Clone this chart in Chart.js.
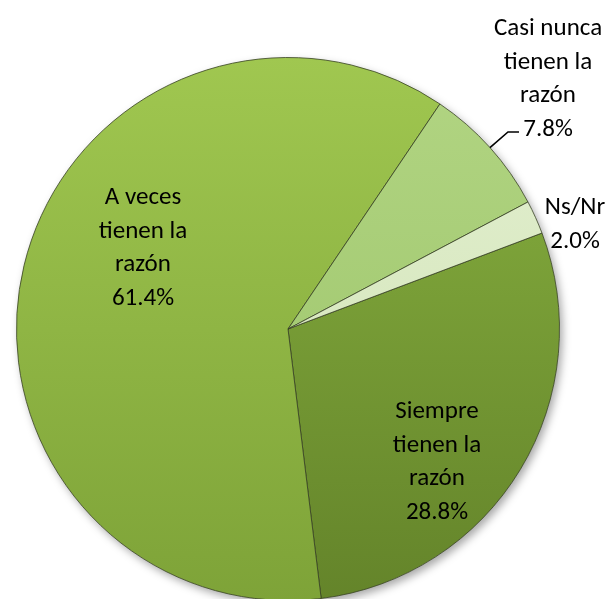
<!DOCTYPE html>
<html>
<head>
<meta charset="utf-8">
<script src="https://cdn.jsdelivr.net/npm/chart.js@4"></script>
<style>
  html, body { margin: 0; padding: 0; background: #fff; overflow: hidden; }
  #wrap { position: relative; width: 612px; height: 620px; }
</style>
</head>
<body>
<div id="wrap"><canvas id="pie"></canvas></div>
<script>
// data (percent)
let categories = ['Siempre tienen la razón', 'A veces tienen la razón', 'Casi nunca tienen la razón', 'Ns/Nr'];
let values = [28.8, 61.4, 7.8, 2.0];
// label lines as they are wrapped in the picture
let labelLines = [
    ['Siempre', 'tienen la', 'razón'],
    ['A veces', 'tienen la', 'razón'],
    ['Casi nunca', 'tienen la', 'razón'],
    ['Ns/Nr']
];

// colours: top and bottom of the vertical gradient for each slice
let topColors = ['#88b140', '#a0c750', '#b2d583', '#e4f0d2'];
let bottomColors = ['#64842a', '#7ea338', '#99c266', '#cde1b0'];

// where each label block is centred (layout only, not data)
let labelPos = [
    { x: 437, y: 412 },
    { x: 143, y: 198 },
    { x: 548, y: 29 },
    { x: 575, y: 208 }
];
let lineGap = 33.5;

function sliceFill(c) {
    let chart = c.chart;
    let area = chart.chartArea;
    let i = c.dataIndex;
    if (!area) return topColors[i];
    let g = chart.ctx.createLinearGradient(0, area.top, 0, area.bottom);
    g.addColorStop(0, topColors[i]);
    g.addColorStop(1, bottomColors[i]);
    return g;
}

// soft shadow under the whole pie
let pieShadow = {
    id: 'pieShadow',
    beforeDatasetsDraw(chart) {
        let arc = chart.getDatasetMeta(0).data[0];
        if (!arc) return;
        let ctx = chart.ctx;
        ctx.save();
        ctx.shadowColor = 'rgba(0,0,0,0.35)';
        ctx.shadowBlur = 9;
        ctx.shadowOffsetX = 3;
        ctx.shadowOffsetY = 4;
        ctx.fillStyle = '#ffffff';
        ctx.beginPath();
        ctx.arc(arc.x, arc.y, arc.outerRadius, 0, Math.PI * 2);
        ctx.fill();
        ctx.restore();
    }
};

// text labels, with the leader line for the small slice
let sliceLabels = {
    id: 'sliceLabels',
    afterDatasetsDraw(chart) {
        let ctx = chart.ctx;
        ctx.save();
        ctx.font = '25px Carlito, Calibri, Lato, sans-serif';
        ctx.fillStyle = '#000';
        ctx.textAlign = 'center';
        ctx.textBaseline = 'middle';
        for (let i = 0; i < values.length; i++) {
            let lines = labelLines[i].concat([values[i].toFixed(1) + '%']);
            let p = labelPos[i];
            lines.forEach((t, k) => ctx.fillText(t, p.x, p.y + k * lineGap));
        }
        // leader line for "Casi nunca"
        let arc = chart.getDatasetMeta(0).data[2];
        let mid = (arc.startAngle + arc.endAngle) / 2;
        let ex = arc.x + Math.cos(mid) * arc.outerRadius;
        let ey = arc.y + Math.sin(mid) * arc.outerRadius;
        ctx.strokeStyle = '#000';
        ctx.lineWidth = 1.6;
        ctx.beginPath();
        ctx.moveTo(ex, ey);
        ctx.lineTo(508, 132);
        ctx.lineTo(519, 132);
        ctx.stroke();
        ctx.restore();
    }
};

let ctx = document.getElementById('pie').getContext('2d');
let chart = new Chart(ctx, {
    type: 'pie',
    data: {
        labels: categories,
        datasets: [{
            data: values,
            backgroundColor: sliceFill,
            borderColor: 'rgba(55,65,35,0.8)',
            borderWidth: 1
        }]
    },
    options: {
        responsive: true,
        maintainAspectRatio: false,
        animation: false,
        rotation: 69.3,
        layout: { padding: { left: 16, right: 52, top: 57, bottom: 19 } },
        plugins: {
            legend: { display: false },
            tooltip: { enabled: false }
        }
    },
    plugins: [pieShadow, sliceLabels]
});
</script>
</body>
</html>
